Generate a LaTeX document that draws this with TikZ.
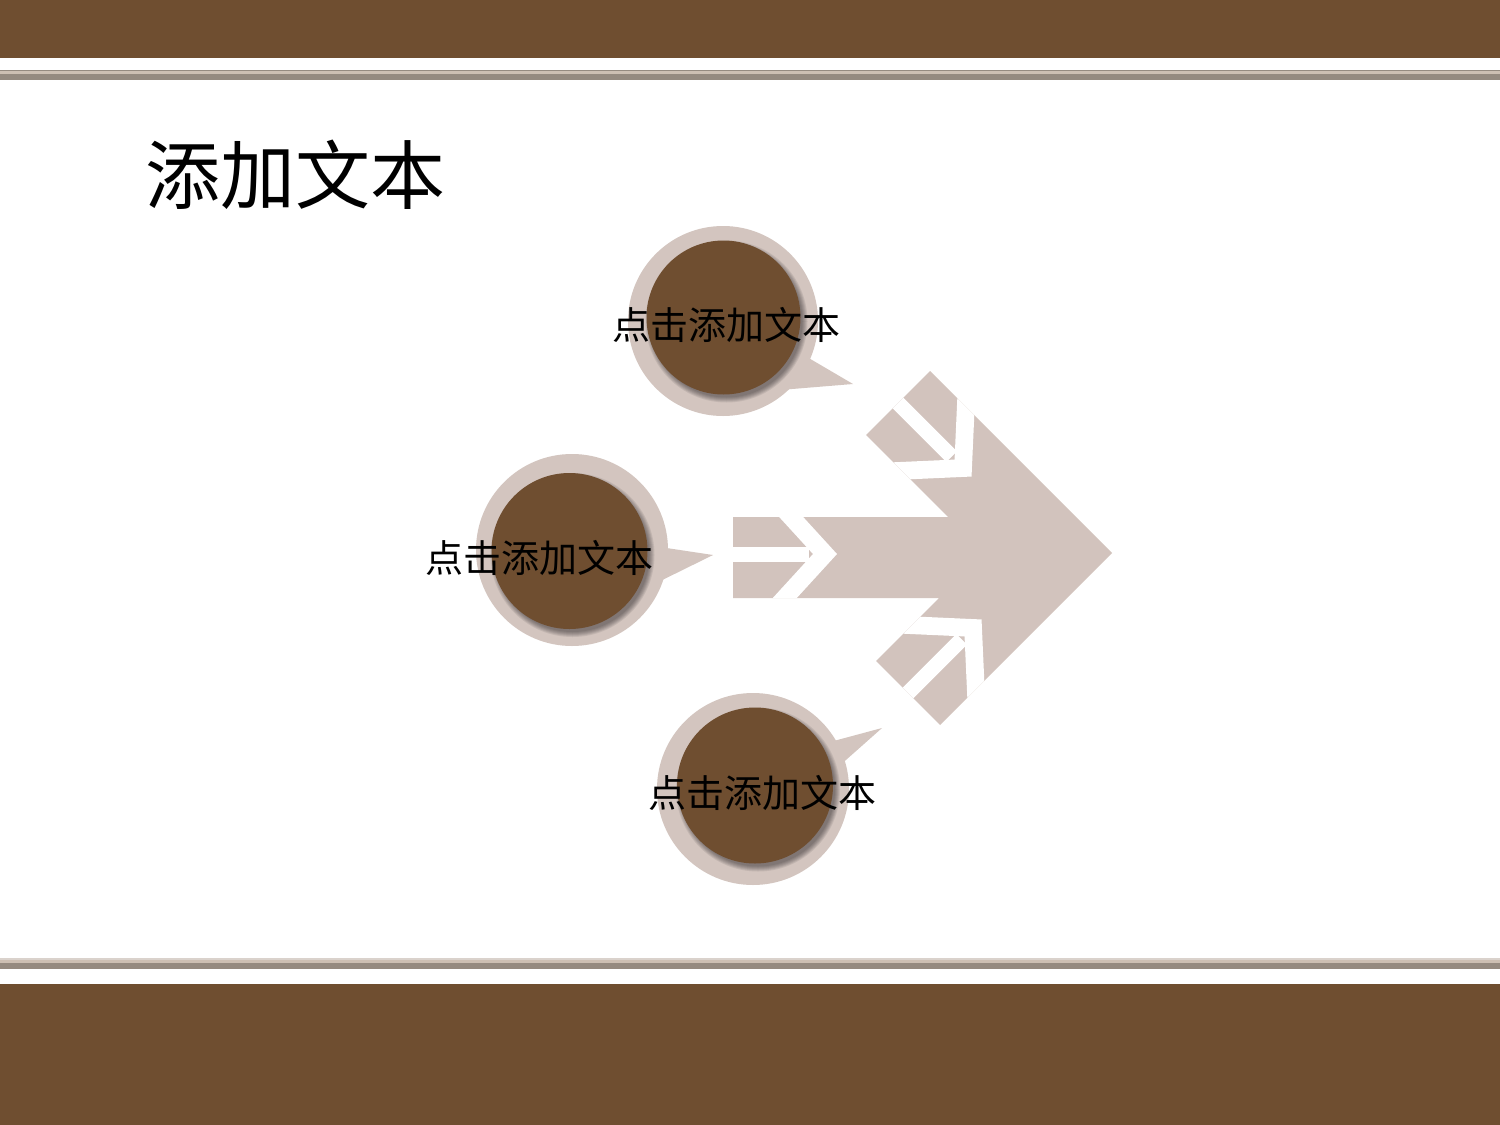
\documentclass[tikz,border=0pt]{standalone}
\usepackage{fontspec}
\newfontfamily\cjk{Noto Sans CJK SC}
\definecolor{bandbrown}{HTML}{6F4E30}
\definecolor{lnGray}{HTML}{958A80}
\definecolor{lnTan}{HTML}{CDBFB3}
\definecolor{lnLight}{HTML}{DAD2CC}
\definecolor{arrowc}{HTML}{D2C3BD}
\definecolor{ringc}{HTML}{D3C5BF}
\tikzset{
  bubbletext/.style={font=\cjk\fontsize{19}{22}\selectfont, text=black, inner sep=0pt},
  titletext/.style={font=\cjk\fontsize{37.5}{44}\selectfont, text=black, inner sep=0pt, anchor=west},
  ring/.style={fill=ringc},
  core/.style={fill=bandbrown},
}
\newcommand{\bigarrowpath}{(733,517) -- (948,517) -- (866,435) -- (930,371) -- (1112,553) -- (940,725) -- (876,661) -- (939,598) -- (733,598) -- cycle}
\newcommand{\mycore}[3]{%
  \foreach \k in {0,1,2,3,4,5}{%
    \fill[black,opacity=0.08] ({#1+3},{#2+4}) circle ({#3+4-\k});
  }
  \fill[core] (#1,#2) circle (#3);
}
\begin{document}
\begin{tikzpicture}[x=0.5pt,y=-0.5pt]
\useasboundingbox (0,0) rectangle (1500,1125);
\fill[white] (0,0) rectangle (1500,1125);
% bands
\fill[bandbrown] (0,0) rectangle (1500,58);
\fill[lnGray] (0,69.5) rectangle (1500,80);
\fill[lnTan] (0,70.7) rectangle (1500,74);
\fill[lnLight] (0,958) rectangle (1500,960);
\fill[lnTan] (0,960) rectangle (1500,962.7);
\fill[lnGray] (0,962.7) rectangle (1500,969);
\fill[bandbrown] (0,984) rectangle (1500,1125);
% title
\node[titletext] (title) at (145,175) {添加文本};
% big arrow
\fill[arrowc] \bigarrowpath;
\begin{scope}
  \clip \bigarrowpath;
  \foreach \sx/\sy/\r in {733/554/0, 898/403/-45, 908/693/45}{
    \begin{scope}[shift={(\sx,\sy)}, rotate=\r]
      \fill[white] (-10,-7.5) rectangle (76,7.5);
      \fill[white] (16,-70) -- (40,-70) -- (104,0) -- (40,70) -- (16,70) -- (80,0) -- cycle;
    \end{scope}
  }
\end{scope}
% bubbles
\fill[ring] (723,321) circle (95);
\fill[ring] (795,350) -- (853,384) -- (780,390) -- cycle;
\fill[ring] (572,550) circle (96);
\fill[ring] (640,544) -- (713,555) -- (640,591) -- cycle;
\fill[ring] (753,789) circle (96);
\fill[ring] (815,746) -- (882,728) -- (820,783) -- cycle;
\mycore{723.5}{317.5}{77}
\mycore{569.5}{551}{78}
\mycore{755}{785.5}{78}
% texts
\node[bubbletext] (t1) at (726,325) {点击添加文本};
\node[bubbletext] (t2) at (539,558) {点击添加文本};
\node[bubbletext] (t3) at (762,793) {点击添加文本};
\end{tikzpicture}
\end{document}
